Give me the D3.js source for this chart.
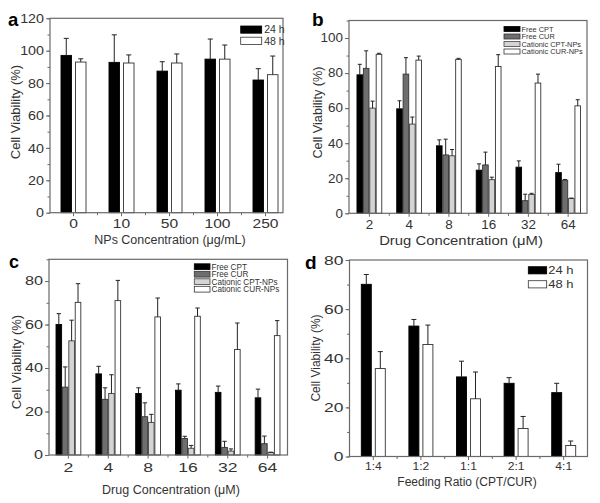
<!DOCTYPE html>
<html><head><meta charset="utf-8">
<script src="https://cdn.jsdelivr.net/npm/d3@7"></script>
<style>html,body{margin:0;padding:0;background:#fff;}svg{display:block;}text{font-family:"Liberation Sans",Arial,sans-serif;fill:#333;}</style>
</head><body><svg id="c" width="600" height="503"></svg>
<script>
// ---------- DATA ----------
const catsA = ["0","10","50","100","250"];
const a24 = [97.1, 92.8, 87.4, 94.8, 81.9];
const a24Err = [10.5, 17, 5.8, 12.4, 7];
const a48 = [93, 92.4, 92.4, 94.8, 85.2];
const a48Err = [2, 5, 5.6, 8.7, 11.5];

const catsB = ["2","4","8","16","32","64"];
const bFreeCPT = [79, 59.6, 38.5, 24.6, 26.3, 23.2];
const bFreeCPTErr = [6, 4.6, 3.4, 3.6, 3.6, 4.8];
const bFreeCUR = [82.7, 79.4, 33.3, 27.6, 7.2, 18.9];
const bFreeCURErr = [10, 9.4, 9, 7.3, 3.7, 0.4];
const bCatCPT = [60, 50.9, 32.8, 19.2, 10.7, 8.4];
const bCatCPTErr = [4, 4, 3.6, 1.4, 0.7, 0.3];
const bCatCUR = [90.7, 87.4, 87.8, 83.8, 74.3, 61.3];
const bCatCURErr = [0.6, 2.3, 0.6, 6.7, 5.1, 3.5];

const catsC = ["2","4","8","16","32","64"];
const cFreeCPT = [60, 37.3, 28.3, 29.8, 28.8, 26.3];
const cFreeCPTErr = [5, 3.5, 2.6, 2.9, 2.9, 4];
const cFreeCUR = [31.2, 25.6, 17.6, 7.6, 3.5, 5.2];
const cFreeCURErr = [9.3, 5.3, 6.4, 1, 2.8, 3.5];
const cCatCPT = [52.5, 28.3, 15, 3.1, 1.8, 1.1];
const cCatCPTErr = [9.5, 8.6, 3.7, 1.3, 1, 0.2];
const cCatCUR = [70.2, 71, 63.5, 63.8, 48.5, 54.9];
const cCatCURErr = [8.6, 9.3, 8.7, 3.8, 12.2, 6.9];

const catsD = ["1:4","1:2","1:1","2:1","4:1"];
const d24 = [70.1, 53.1, 32.4, 29.8, 26];
const d24Err = [4, 2.7, 6.4, 2.3, 3.8];
const d48 = [35.8, 45.6, 23.5, 11.4, 4.5];
const d48Err = [6.9, 7.9, 10.9, 4.9, 1.8];

const timeLabels = ["24 h", "48 h"];
const drugLabels = ["Free CPT", "Free CUR", "Cationic CPT-NPs", "Cationic CUR-NPs"];

// ---------- STYLE ----------
const FILL4 = ["#000000", "#6e6e6e", "#d4d4d4", "#ffffff"];
const STROKE4 = ["#000000", "#333333", "#444444", "#333333"];
const FILL2 = ["#000000", "#ffffff"];
const STROKE2 = ["#000000", "#333333"];
const FRAME = "#6a6a6a";

const svg = d3.select("#c");

function panel(o) {
  const g = svg.append("g");
  const x = d3.scaleBand().domain(o.cats).range(o.xRange).padding(0);
  const y = d3.scaleLinear().domain(o.yDomain).range([o.y0, o.y1]);

  // y minor ticks
  g.append("g").attr("transform", `translate(${o.x0},0)`)
    .call(d3.axisLeft(y).tickValues(d3.range(o.yDomain[0], o.yDomain[1] + 0.001, o.yMinor)).tickSize(2.5).tickFormat("").tickSizeOuter(0))
    .call(s => { s.select(".domain").remove(); s.selectAll("line").attr("stroke", FRAME); });
  // y major ticks + labels
  const ya = g.append("g").attr("transform", `translate(${o.x0},0)`)
    .call(d3.axisLeft(y).tickValues(d3.range(o.yDomain[0], o.yDomain[1] + 0.001, o.yMajor)).tickSize(4).tickPadding(3).tickSizeOuter(0));
  ya.select(".domain").remove();
  ya.selectAll("line").attr("stroke", FRAME);
  ya.selectAll("text").attr("font-family", null).attr("fill", "#333")
    .style("font-size", o.yTickSize + "px").attr("x", -o.yTickGap / o.yTickSx)
    .attr("transform", `scale(${o.yTickSx},1)`);

  // x major ticks + labels
  const xa = g.append("g").attr("transform", `translate(0,${o.y0})`)
    .call(d3.axisBottom(x).tickSize(3.5).tickPadding(o.xTickPad).tickSizeOuter(0));
  xa.select(".domain").remove();
  xa.selectAll("line").attr("stroke", FRAME);
  xa.selectAll("text").attr("font-family", null).attr("fill", "#333")
    .style("font-size", o.xTickSize + "px").attr("transform", `scale(${o.xTickSx},1)`);
  // x minor ticks between categories
  g.append("g").selectAll("line").data(o.cats.slice(0, -1)).join("line")
    .attr("x1", d => x(d) + x.bandwidth()).attr("x2", d => x(d) + x.bandwidth())
    .attr("y1", o.y0).attr("y2", o.y0 + 2.5).attr("stroke", FRAME);

  // bars
  o.series.forEach((s, si) => {
    const sg = g.append("g");
    const left = d => x(o.cats[d]) + x.bandwidth() / 2 + o.groupOff + si * o.barStep;
    sg.selectAll("rect").data(d3.range(o.cats.length)).join("rect")
      .attr("x", i => left(i)).attr("width", o.barW)
      .attr("y", i => y(s.vals[i])).attr("height", i => y(0) - y(s.vals[i]))
      .attr("fill", o.fills[si]).attr("stroke", o.strokes[si]).attr("stroke-width", 0.9);
    // error bars (upper)
    sg.selectAll("path.err").data(d3.range(o.cats.length)).join("path").attr("class", "err")
      .attr("d", i => {
        const cx = left(i) + o.barW / 2;
        const yt = y(s.vals[i] + s.errs[i]);
        const yb = y(s.vals[i]);
        return `M${cx},${yb}V${yt}M${cx - o.cap},${yt}H${cx + o.cap}`;
      })
      .attr("stroke", "#222").attr("stroke-width", 1).attr("fill", "none");
  });

  // frame
  g.append("rect").attr("x", o.x0).attr("y", o.y1).attr("width", o.x1 - o.x0).attr("height", o.y0 - o.y1)
    .attr("fill", "none").attr("stroke", FRAME).attr("stroke-width", 1.2);

  // titles
  g.append("text").text(o.xTitle).attr("text-anchor", "middle")
    .attr("x", o.xTitlePos[0] / o.xTitleSx).attr("y", o.xTitlePos[1])
    .style("font-size", o.xTitleSize + "px").attr("transform", `scale(${o.xTitleSx},1)`);
  g.append("text").text("Cell Viability (%)").attr("text-anchor", "middle")
    .attr("transform", `translate(${o.yTitlePos[0]},${o.yTitlePos[1]}) rotate(-90)`)
    .style("font-size", o.yTitleSize + "px");
  g.append("text").text(o.letter).attr("x", o.letterPos[0]).attr("y", o.letterPos[1])
    .style("font-size", o.letterSize + "px").style("font-weight", "bold").style("fill", "#000");

  // legend
  const lg = g.append("g");
  o.legend.labels.forEach((lab, i) => {
    const ry = o.legend.y + i * o.legend.step;
    lg.append("rect").attr("x", o.legend.x).attr("y", ry).attr("width", o.legend.w).attr("height", o.legend.h)
      .attr("fill", o.fills[i]).attr("stroke", o.strokes[i]).attr("stroke-width", 0.8);
    lg.append("text").text(lab)
      .attr("x", (o.legend.x + o.legend.w + o.legend.gap) / o.legend.sx).attr("y", ry + o.legend.h / 2)
      .attr("dy", "0.36em").style("font-size", o.legend.size + "px")
      .attr("transform", `scale(${o.legend.sx},1)`);
  });
}

// ---------- PANELS ----------
panel({
  letter: "a", letterPos: [8, 26], letterSize: 18.5,
  cats: catsA, xRange: [49.5, 289.5], x0: 50, x1: 283, y0: 212.7, y1: 18.3,
  yDomain: [0, 120], yMajor: 20, yMinor: 10,
  series: [{vals: a24, errs: a24Err}, {vals: a48, errs: a48Err}],
  fills: FILL2, strokes: STROKE2, barW: 10.5, barStep: 14.5, groupOff: -12.5, cap: 2.5,
  yTickSize: 13, yTickSx: 1.1, yTickGap: 6,
  xTickSize: 13, xTickSx: 1.2, xTickPad: 3,
  xTitle: "NPs Concentration (\u03bcg/mL)", xTitlePos: [170, 244.5], xTitleSize: 12, xTitleSx: 1.04,
  yTitlePos: [20, 112], yTitleSize: 13,
  legend: {labels: timeLabels, x: 240.7, y: 26, w: 21, h: 7.2, step: 11.2, gap: 2.5, size: 10.5, sx: 1.0}
});

panel({
  letter: "b", letterPos: [312, 26], letterSize: 19,
  cats: catsB, xRange: [349.5, 588], x0: 349, x1: 587, y0: 213.3, y1: 20.5,
  yDomain: [0, 110], yMajor: 20, yMinor: 10,
  series: [{vals: bFreeCPT, errs: bFreeCPTErr}, {vals: bFreeCUR, errs: bFreeCURErr},
           {vals: bCatCPT, errs: bCatCPTErr}, {vals: bCatCUR, errs: bCatCURErr}],
  fills: FILL4, strokes: STROKE4, barW: 5.6, barStep: 6.4, groupOff: -12.4, cap: 2,
  yTickSize: 12, yTickSx: 1.12, yTickGap: 6,
  xTickSize: 12, xTickSx: 1.12, xTickPad: 3.5,
  xTitle: "Drug Concentration (\u03bcM)", xTitlePos: [461, 245.5], xTitleSize: 13.5, xTitleSx: 1.1,
  yTitlePos: [321.5, 112.5], yTitleSize: 12.7,
  legend: {labels: drugLabels, x: 504, y: 26.5, w: 16, h: 5, step: 7.5, gap: 1.5, size: 7.4, sx: 1.0}
});

panel({
  letter: "c", letterPos: [9, 268], letterSize: 18,
  cats: catsC, xRange: [48.5, 287.5], x0: 49, x1: 287.5, y0: 455, y1: 259.3,
  yDomain: [0, 90], yMajor: 20, yMinor: 10,
  series: [{vals: cFreeCPT, errs: cFreeCPTErr}, {vals: cFreeCUR, errs: cFreeCURErr},
           {vals: cCatCPT, errs: cCatCPTErr}, {vals: cCatCUR, errs: cCatCURErr}],
  fills: FILL4, strokes: STROKE4, barW: 5.6, barStep: 6.4, groupOff: -12.4, cap: 2.2,
  yTickSize: 12, yTickSx: 1.35, yTickGap: 6,
  xTickSize: 13.5, xTickSx: 1.3, xTickPad: 3.5,
  xTitle: "Drug Concentration (\u03bcM)", xTitlePos: [171, 494], xTitleSize: 12.5, xTitleSx: 1.0,
  yTitlePos: [20.5, 362], yTitleSize: 13,
  legend: {labels: drugLabels, x: 194.3, y: 263.8, w: 15.7, h: 5.8, step: 7.5, gap: 1.5, size: 8.2, sx: 1.0}
});

panel({
  letter: "d", letterPos: [305, 269], letterSize: 19,
  cats: catsD, xRange: [349.5, 587.5], x0: 349.5, x1: 587.5, y0: 456.5, y1: 260,
  yDomain: [0, 80], yMajor: 20, yMinor: 10,
  series: [{vals: d24, errs: d24Err}, {vals: d48, errs: d48Err}],
  fills: FILL2, strokes: STROKE2, barW: 10, barStep: 14, groupOff: -12, cap: 2.5,
  yTickSize: 12.5, yTickSx: 1.4, yTickGap: 6,
  xTickSize: 11.5, xTickSx: 1.05, xTickPad: 1.5,
  xTitle: "Feeding Ratio (CPT/CUR)", xTitlePos: [467, 486], xTitleSize: 12, xTitleSx: 1.0,
  yTitlePos: [320, 358], yTitleSize: 12,
  legend: {labels: timeLabels, x: 528.3, y: 266.7, w: 18.4, h: 7.2, step: 14, gap: 1.5, size: 10, sx: 1.3}
});
</script></body></html>
